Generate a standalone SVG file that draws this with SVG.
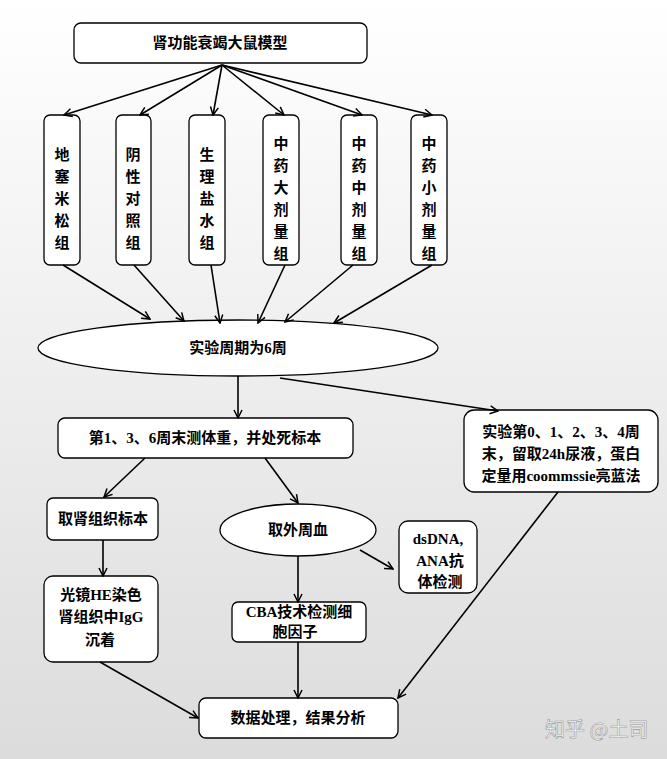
<svg xmlns="http://www.w3.org/2000/svg" width="667" height="759" viewBox="0 0 667 759">
<defs>
<linearGradient id="bg" x1="0" y1="0" x2="0" y2="1"><stop offset="0" stop-color="#ffffff"/><stop offset="1" stop-color="#dcdcdc"/></linearGradient>
<marker id="a" markerWidth="10" markerHeight="10" refX="9" refY="5" orient="auto" markerUnits="userSpaceOnUse"><path d="M1,1 L9,5 L1,9" fill="none" stroke="#000" stroke-width="1.5"/></marker>
<style>
.n{fill:#fff;stroke:#000;stroke-width:1.3}
.t{font-family:"Liberation Serif","Noto Sans CJK SC",serif;font-weight:bold;font-size:15px;fill:#000;text-anchor:middle}
.c line{stroke:#000;stroke-width:1.6;marker-end:url(#a)}
</style>
</defs>
<rect width="667" height="759" fill="url(#bg)"/>
<g id="top"><rect class="n" x="74" y="23" width="293" height="40" rx="7"/><text class="t" x="220" y="48">肾功能衰竭大鼠模型</text></g>
<g id="g1"><rect class="n" x="44" y="115" width="36" height="150" rx="6"/><text class="t" x="62" y="160">地</text><text class="t" x="62" y="182">塞</text><text class="t" x="62" y="204">米</text><text class="t" x="62" y="226">松</text><text class="t" x="62" y="248">组</text></g>
<g id="g2"><rect class="n" x="116" y="115" width="35" height="150" rx="6"/><text class="t" x="133" y="160">阴</text><text class="t" x="133" y="182">性</text><text class="t" x="133" y="204">对</text><text class="t" x="133" y="226">照</text><text class="t" x="133" y="248">组</text></g>
<g id="g3"><rect class="n" x="189" y="115" width="36" height="150" rx="6"/><text class="t" x="207" y="160">生</text><text class="t" x="207" y="182">理</text><text class="t" x="207" y="204">盐</text><text class="t" x="207" y="226">水</text><text class="t" x="207" y="248">组</text></g>
<g id="g4"><rect class="n" x="263" y="115" width="36" height="150" rx="6"/><text class="t" x="281" y="149">中</text><text class="t" x="281" y="171">药</text><text class="t" x="281" y="193">大</text><text class="t" x="281" y="215">剂</text><text class="t" x="281" y="237">量</text><text class="t" x="281" y="259">组</text></g>
<g id="g5"><rect class="n" x="341" y="115" width="36" height="150" rx="6"/><text class="t" x="359" y="149">中</text><text class="t" x="359" y="171">药</text><text class="t" x="359" y="193">中</text><text class="t" x="359" y="215">剂</text><text class="t" x="359" y="237">量</text><text class="t" x="359" y="259">组</text></g>
<g id="g6"><rect class="n" x="411" y="115" width="36" height="150" rx="6"/><text class="t" x="429" y="149">中</text><text class="t" x="429" y="171">药</text><text class="t" x="429" y="193">小</text><text class="t" x="429" y="215">剂</text><text class="t" x="429" y="237">量</text><text class="t" x="429" y="259">组</text></g>
<g id="period"><ellipse class="n" cx="238" cy="348" rx="200" ry="28"/><text class="t" x="238" y="353">实验周期为6周</text></g>
<g id="weigh"><rect class="n" x="58" y="418" width="295" height="40" rx="7"/><text class="t" x="205" y="443">第1、3、6周末测体重，并处死标本</text></g>
<g id="urine"><rect class="n" x="464" y="410" width="194" height="82" rx="10"/><text class="t" x="561" y="437">实验第0、1、2、3、4周</text><text class="t" x="561" y="459">末，留取24h尿液，蛋白</text><text class="t" x="561" y="481">定量用coommssie亮蓝法</text></g>
<g id="kidney"><rect class="n" x="47" y="498" width="111" height="42" rx="6"/><text class="t" x="103" y="524">取肾组织标本</text></g>
<g id="blood"><ellipse class="n" cx="298" cy="530" rx="78" ry="26"/><text class="t" x="298" y="535">取外周血</text></g>
<g id="dsdna"><rect class="n" x="399" y="521" width="78" height="72" rx="9"/><text class="t" x="438" y="544">dsDNA,</text><text class="t" x="440" y="566">ANA抗</text><text class="t" x="440" y="587">体检测</text></g>
<g id="he"><rect class="n" x="44" y="576" width="114" height="86" rx="9"/><text class="t" x="101" y="600">光镜HE染色</text><text class="t" x="101" y="622">肾组织中IgG</text><text class="t" x="100" y="645">沉着</text></g>
<g id="cba"><rect class="n" x="232" y="602" width="134" height="40" rx="6"/><text class="t" x="299" y="617">CBA技术检测细</text><text class="t" x="295" y="637">胞因子</text></g>
<g id="data"><rect class="n" x="199" y="698" width="199" height="40" rx="7"/><text class="t" x="298" y="723">数据处理，结果分析</text></g>
<g class="c" id="connectors">
<line x1="222" y1="65" x2="64" y2="115"/>
<line x1="222" y1="65" x2="140" y2="115"/>
<line x1="222" y1="65" x2="213" y2="115"/>
<line x1="222" y1="65" x2="284" y2="115"/>
<line x1="222" y1="65" x2="362" y2="115"/>
<line x1="222" y1="65" x2="432" y2="115"/>
<line x1="63" y1="265" x2="150" y2="319"/>
<line x1="134" y1="265" x2="184" y2="321"/>
<line x1="211" y1="265" x2="220" y2="323"/>
<line x1="285" y1="265" x2="258" y2="323"/>
<line x1="353" y1="265" x2="285" y2="322"/>
<line x1="432" y1="265" x2="334" y2="323"/>
<line x1="238" y1="376" x2="238" y2="418"/>
<line x1="280" y1="378" x2="498" y2="411"/>
<line x1="145" y1="458" x2="104" y2="497"/>
<line x1="265" y1="458" x2="298" y2="503"/>
<line x1="103" y1="540" x2="103" y2="576"/>
<line x1="360" y1="550" x2="393" y2="569"/>
<line x1="298" y1="556" x2="298" y2="602"/>
<line x1="100" y1="662" x2="198" y2="718"/>
<line x1="298" y1="642" x2="298" y2="698"/>
<line x1="558" y1="492" x2="398" y2="698"/>
</g>
<text x="545" y="737" style="font-family:'Noto Sans CJK SC',sans-serif;font-size:20px;fill:#fff;stroke:#999;stroke-width:0.6">知乎 @土司</text>
</svg>
